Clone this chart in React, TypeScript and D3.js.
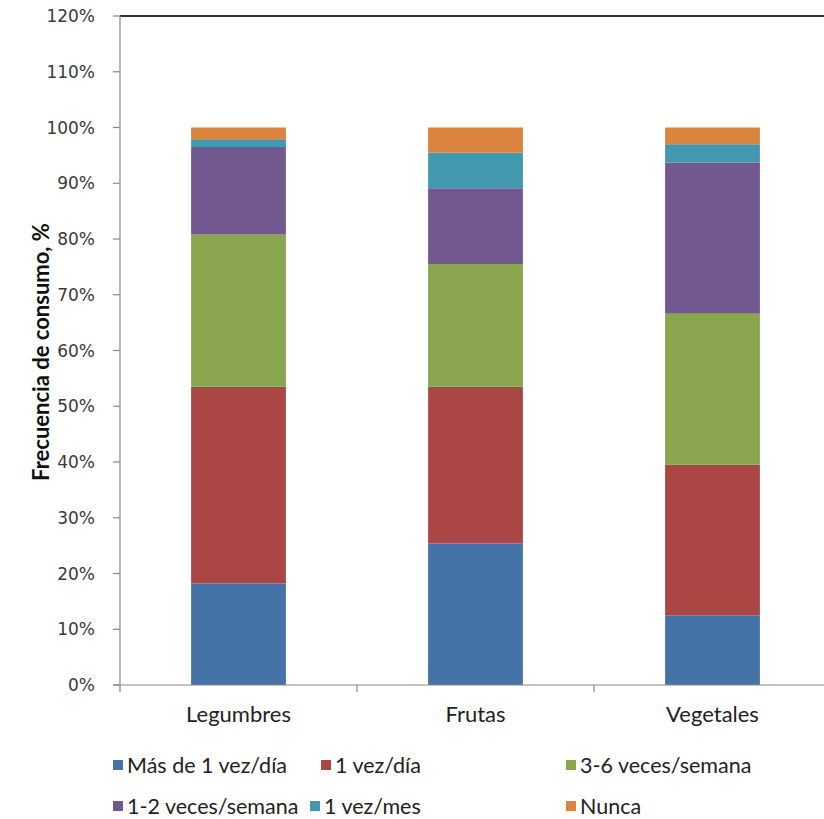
import { useMemo } from "react";
import * as d3 from "d3";

const categories = ["Legumbres", "Frutas", "Vegetales"];
const seriesNames = [
  "Más de 1 vez/día",
  "1 vez/día",
  "3-6 veces/semana",
  "1-2 veces/semana",
  "1 vez/mes",
  "Nunca",
];
// values per series, in category order (fractions of 1)
const masDeUnaVezDia = [0.182, 0.254, 0.125];
const unaVezDia = [0.353, 0.281, 0.27];
const tresSeisSemana = [0.273, 0.22, 0.271];
const unaDosSemana = [0.157, 0.136, 0.271];
const unaVezMes = [0.014, 0.064, 0.033];
const nunca = [0.021, 0.045, 0.03];
const yTicks = [0, 0.1, 0.2, 0.3, 0.4, 0.5, 0.6, 0.7, 0.8, 0.9, 1.0, 1.1, 1.2];
const colors = ["#4572A7", "#AA4643", "#89A54E", "#71588F", "#4198AF", "#DB843D"];

const seriesValues = [masDeUnaVezDia, unaVezDia, tresSeisSemana, unaDosSemana, unaVezMes, nunca];

const width = 824;
const height = 819;
const left = 120;
const top = 16;
const bottom = 685;
const right = 831;

const labelFont = "Lato, Carlito, Calibri, sans-serif";

// legend slots (Excel-style flow)
const legendSlots = [
  { x: 113, y: 765 },
  { x: 321, y: 765 },
  { x: 566, y: 765 },
  { x: 113, y: 806 },
  { x: 310, y: 806 },
  { x: 566, y: 806 },
];

export default function App() {
  const rows = useMemo(
    () =>
      categories.map((c, i) => {
        const row: Record<string, number | string> = { category: c };
        seriesNames.forEach((s, j) => (row[s] = seriesValues[j][i]));
        return row;
      }),
    [],
  );

  const stacked = d3.stack<Record<string, number | string>>().keys(seriesNames)(rows as any);

  const x = d3
    .scaleBand()
    .domain(categories)
    .range([left, right])
    .paddingInner(0.6)
    .paddingOuter(0.3);
  const y = d3.scaleLinear().domain([0, 1.2]).range([bottom, top]);
  const step = x.step();
  const boundaries = d3.range(categories.length + 1).map((i) => left + i * step);

  return (
    <svg
      width={width}
      height={height}
      style={{ position: "absolute", left: 0, top: 0, background: "#fff" }}
    >
      {/* bars */}
      {stacked.map((layer, si) => (
        <g key={layer.key} fill={colors[si]}>
          {layer.map((d, ci) => (
            <rect
              key={categories[ci]}
              x={x(categories[ci])}
              width={x.bandwidth()}
              y={y(d[1])}
              height={y(d[0]) - y(d[1])}
            />
          ))}
        </g>
      ))}

      {/* top border */}
      <line x1={left} x2={width} y1={top} y2={top} stroke="#333" strokeWidth={2} />

      {/* y axis */}
      <line x1={left} x2={left} y1={top} y2={bottom} stroke="#888" strokeWidth={1.2} />
      {yTicks.map((t) => (
        <g key={t}>
          <line x1={left - 7} x2={left} y1={y(t)} y2={y(t)} stroke="#888" strokeWidth={1.2} />
          <text
            x={95}
            y={y(t)}
            dy="0.36em"
            textAnchor="end"
            fontFamily="DejaVu Sans, Verdana, sans-serif"
            fontSize={17}
            fill="#3a3a3a"
          >
            {d3.format(".0%")(t)}
          </text>
        </g>
      ))}

      {/* x axis */}
      <line x1={left - 7} x2={width} y1={bottom} y2={bottom} stroke="#888" strokeWidth={1.2} />
      {boundaries.map((b) => (
        <line key={b} x1={b} x2={b} y1={bottom} y2={bottom + 7} stroke="#888" strokeWidth={1.2} />
      ))}
      {categories.map((c) => (
        <text
          key={c}
          x={(x(c) ?? 0) + x.bandwidth() / 2}
          y={722}
          textAnchor="middle"
          fontFamily={labelFont}
          fontSize={22}
          fill="#222"
        >
          {c}
        </text>
      ))}

      {/* y axis title */}
      <text
        transform={`translate(49,352) rotate(-90)`}
        textAnchor="middle"
        fontFamily={labelFont}
        fontWeight="bold"
        fontSize={22}
        fill="#111"
      >
        Frecuencia de consumo, %
      </text>

      {/* legend */}
      {seriesNames.map((s, i) => (
        <g key={s} transform={`translate(${legendSlots[i].x},${legendSlots[i].y})`}>
          <rect x={0} y={-5} width={10} height={10} fill={colors[i]} />
          <text
            x={14}
            y={0}
            dy="0.35em"
            fontFamily={labelFont}
            fontSize={21.5}
            fill="#222"
          >
            {s}
          </text>
        </g>
      ))}
    </svg>
  );
}
